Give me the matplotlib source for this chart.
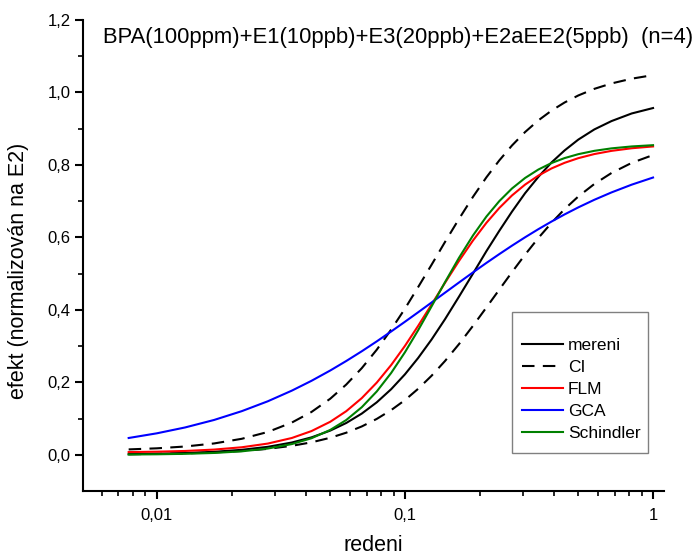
import matplotlib
matplotlib.use("Agg")
import matplotlib.pyplot as plt
from matplotlib.patches import Rectangle
from matplotlib.ticker import FixedLocator, FuncFormatter, NullFormatter

plt.rcParams['font.family'] = ['Liberation Sans', 'DejaVu Sans']

redeni = [0.0077, 0.01, 0.013, 0.017, 0.022, 0.028, 0.035, 0.042, 0.05, 0.058, 0.067,
          0.077, 0.088, 0.1, 0.113, 0.128, 0.145, 0.165, 0.188, 0.213, 0.24, 0.27,
          0.305, 0.345, 0.39, 0.44, 0.5, 0.58, 0.68, 0.82, 1.0]
mereni = [0.0017, 0.0029, 0.0048, 0.0082, 0.0137, 0.0219, 0.0338, 0.048, 0.0667, 0.0877,
          0.1137, 0.1448, 0.181, 0.222, 0.267, 0.318, 0.374, 0.436, 0.500, 0.562, 0.618,
          0.671, 0.722, 0.767, 0.807, 0.840, 0.870, 0.898, 0.921, 0.942, 0.957]
ci_upper = [0.0148, 0.0178, 0.0228, 0.0312, 0.0441, 0.0629, 0.0889, 0.1181, 0.1547, 0.1938,
            0.2391, 0.29, 0.3456, 0.4032, 0.4626, 0.5243, 0.5872, 0.6506, 0.7118, 0.7658,
            0.8124, 0.8536, 0.8908, 0.923, 0.95, 0.9723, 0.9918, 1.01, 1.0249, 1.038, 1.0479]
ci_lower = [0.0015, 0.0024, 0.0039, 0.0065, 0.0104, 0.0163, 0.0247, 0.0343, 0.0469, 0.0609,
            0.0782, 0.099, 0.1233, 0.1509, 0.182, 0.218, 0.2587, 0.3051, 0.3558, 0.4066,
            0.4557, 0.504, 0.5524, 0.5984, 0.6404, 0.678, 0.713, 0.7474, 0.7777, 0.8056, 0.8273]
flm = [0.0074, 0.0085, 0.0105, 0.0143, 0.0207, 0.0309, 0.0463, 0.0654, 0.0911, 0.1203,
       0.1564, 0.1992, 0.2477, 0.3005, 0.3556, 0.4146, 0.4744, 0.5346, 0.5913, 0.6402,
       0.6811, 0.7157, 0.7457, 0.7705, 0.7904, 0.8058, 0.8187, 0.830, 0.8388, 0.846, 0.851]
gca = [0.0463, 0.0592, 0.0754, 0.096, 0.1204, 0.1476, 0.177, 0.2041, 0.2326, 0.2588,
       0.2857, 0.313, 0.3403, 0.3671, 0.3932, 0.4202, 0.4473, 0.4753, 0.5033, 0.5295,
       0.5538, 0.5771, 0.6003, 0.6227, 0.6438, 0.6634, 0.6829, 0.7038, 0.7241, 0.7455, 0.7652]
schindler = [0.0007, 0.0013, 0.0026, 0.005, 0.0095, 0.0172, 0.0295, 0.0456, 0.0686, 0.0959,
             0.1313, 0.1748, 0.2258, 0.2829, 0.3436, 0.4094, 0.4763, 0.5432, 0.6052, 0.6575,
             0.70, 0.7349, 0.764, 0.7873, 0.8053, 0.8189, 0.8297, 0.8389, 0.8457, 0.851, 0.8545]

title = "BPA(100ppm)+E1(10ppb)+E3(20ppb)+E2aEE2(5ppb)  (n=4)"

W, H = 694, 557
fig = plt.figure(figsize=(W / 100, H / 100), dpi=100)
ax = fig.add_axes([83 / W, 1 - 491 / H, (664 - 83) / W, (491 - 20) / H])

lw = 1.5
ax.plot(redeni, mereni, color='black', lw=lw, label='mereni')
ax.plot(redeni, ci_upper, color='black', lw=lw, dashes=(6, 4), label='CI')
ax.plot(redeni, ci_lower, color='black', lw=lw, dashes=(6, 4))
ax.plot(redeni, flm, color='#ff0000', lw=lw, label='FLM')
ax.plot(redeni, gca, color='#0000ff', lw=lw, label='GCA')
ax.plot(redeni, schindler, color='#008000', lw=lw, label='Schindler')

ax.set_xscale('log')
ax.set_xlim(0.00504, 1.107)
ax.set_ylim(-0.1, 1.2)

for s in ['top', 'right']:
    ax.spines[s].set_visible(False)
for s in ['left', 'bottom']:
    ax.spines[s].set_linewidth(1.5)

ax.set_yticks([0.0, 0.2, 0.4, 0.6, 0.8, 1.0, 1.2])
ax.yaxis.set_minor_locator(FixedLocator([0.1, 0.3, 0.5, 0.7, 0.9, 1.1]))
ax.yaxis.set_major_formatter(FuncFormatter(lambda v, p: f"{v:.1f}".replace('.', ',')))

ax.xaxis.set_major_locator(FixedLocator([0.01, 0.1, 1]))
ax.xaxis.set_major_formatter(FuncFormatter(lambda v, p: {0.01: '0,01', 0.1: '0,1', 1: '1'}.get(round(v, 4), '')))
minors = [k * 0.001 for k in range(6, 10)] + [k * 0.01 for k in range(2, 10)] + [k * 0.1 for k in range(2, 10)]
ax.xaxis.set_minor_locator(FixedLocator(minors))
ax.xaxis.set_minor_formatter(NullFormatter())

ax.tick_params(which='major', direction='out', length=6, width=1.5, labelsize=12)
ax.tick_params(which='minor', direction='out', length=3.5, width=1.2)
ax.tick_params(axis='y', which='major', pad=3)
ax.tick_params(axis='x', which='major', pad=6)

fig.text(373 / W, 1 / H, 'redeni', fontsize=15.5, ha='center', va='bottom')
fig.text(19 / W, 1 - 271 / H, 'efekt (normalizován na E2)', fontsize=15.5,
         rotation=90, ha='center', va='center')

fig.text(103 / W, 1 - 37 / H, title, fontsize=15.85, ha='left', va='center')

# legend frame
fig.patches.append(Rectangle((512 / W, 1 - 453 / H), 136 / W, 141 / H,
                             transform=fig.transFigure, fill=False,
                             edgecolor='#808080', lw=1.0))
leg = ax.legend(loc='upper left', bbox_to_anchor=(521.7 / W, 1 - 338 / H),
                bbox_transform=fig.transFigure, fontsize=12.5, frameon=False,
                handlelength=2.36, handletextpad=0.29, labelspacing=0.39,
                borderpad=0.0, borderaxespad=0.0)

fig.savefig('out.png', dpi=100)
